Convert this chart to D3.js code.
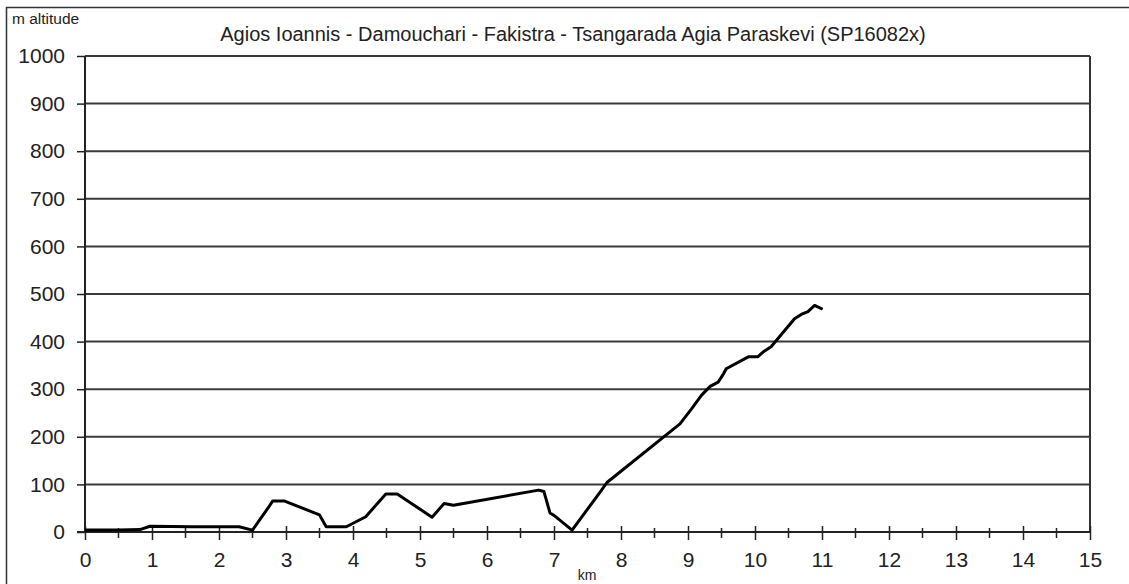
<!DOCTYPE html>
<html>
<head>
<meta charset="utf-8">
<script src="https://cdn.jsdelivr.net/npm/d3@7"></script>
<style>
 body { margin: 0; background: #fff; }
 svg { display: block; font-family: "Liberation Sans", Arial, sans-serif; }
</style>
</head>
<body>
<svg id="chart"></svg>
<script>
// distance along the route (km) and altitude (m)
var km = [0, 0.5, 0.82, 0.97, 1.6, 2.3, 2.5, 2.73, 2.8, 2.98, 3.5, 3.6, 3.9, 4.19, 4.49, 4.66,
  5.18, 5.36, 5.5, 6.77, 6.85, 6.94, 7.0, 7.27, 7.71, 7.79, 8.88, 9.05, 9.2, 9.33, 9.45,
  9.52, 9.57, 9.9, 10.04, 10.12, 10.24, 10.59, 10.69, 10.79, 10.89, 11.01];
var altitude = [4, 4, 5, 12, 11, 11, 4, 50, 65, 65, 36, 11, 11, 32, 80, 80,
  31, 60, 56, 88, 85, 40, 35, 4, 88, 104, 227, 258, 287, 306, 315,
  330, 343, 368, 368, 378, 389, 448, 457, 463, 476, 468];
var xTicks = d3.range(0, 16, 1);
var xMinorTicks = d3.range(0.5, 15, 1);
var yTicks = d3.range(0, 1001, 100);
var title = "Agios Ioannis - Damouchari - Fakistra - Tsangarada Agia Paraskevi (SP16082x)";

var width = 1129,
 height = 584;

var plotLeft = 85, plotRight = 1090, plotTop = 56, plotBottom = 532;

var svg = d3.select("#chart")
 .attr("width", width)
 .attr("height", height);

// outer frame (only top and left edges are visible)
svg.append("rect")
 .attr("x", 6.5).attr("y", 7.5)
 .attr("width", width + 20).attr("height", height + 20)
 .attr("fill", "#fff")
 .attr("stroke", "#333")
 .attr("stroke-width", 1.5);

var x = d3.scaleLinear().domain([0, 15]).range([plotLeft, plotRight]);
var y = d3.scaleLinear().domain([0, 1000]).range([plotBottom, plotTop]);

// horizontal gridlines
svg.append("g")
 .selectAll("line")
 .data(yTicks.filter(function(d) { return d > 0; }))
 .enter().append("line")
 .attr("x1", plotLeft).attr("x2", plotRight)
 .attr("y1", function(d) { return y(d); })
 .attr("y2", function(d) { return y(d); })
 .attr("stroke", "#3a3a3a")
 .attr("stroke-width", 2);

// right edge of plot
svg.append("line")
 .attr("x1", plotRight).attr("x2", plotRight)
 .attr("y1", plotTop).attr("y2", plotBottom)
 .attr("stroke", "#333").attr("stroke-width", 2);

// y axis
var yAxis = svg.append("g")
 .attr("transform", "translate(" + plotLeft + ",0)")
 .call(d3.axisLeft(y).tickValues(yTicks).tickFormat(d3.format("d")).tickSize(8).tickPadding(12));

// x axis
var xAxis = svg.append("g")
 .attr("transform", "translate(0," + plotBottom + ")")
 .call(d3.axisBottom(x).tickValues(xTicks).tickFormat(d3.format("d")).tickSize(8).tickPadding(12));

svg.append("g")
 .selectAll("line")
 .data(xMinorTicks)
 .enter().append("line")
 .attr("x1", function(d) { return x(d); })
 .attr("x2", function(d) { return x(d); })
 .attr("y1", plotBottom - 4).attr("y2", plotBottom + 6)
 .attr("stroke", "#222").attr("stroke-width", 1.5);

[yAxis, xAxis].forEach(function(a) {
 a.select(".domain").attr("stroke", "#222").attr("stroke-width", 2);
 a.selectAll(".tick line").attr("stroke", "#222").attr("stroke-width", 1.5);
 a.selectAll(".tick text")
  .attr("fill", "#222")
  .style("font-size", "21px")
  .style("font-family", "'Liberation Sans', Arial, sans-serif");
});
xAxis.selectAll(".tick line").attr("y1", -6);
yAxis.select(".domain").attr("d", "M0," + plotBottom + "V" + plotTop);
xAxis.select(".domain").attr("d", "M" + (plotLeft - 8) + ",0H" + plotRight);

// profile line
var line = d3.line()
 .x(function(d, i) { return x(km[i]); })
 .y(function(d) { return y(d); });

svg.append("path")
 .datum(altitude)
 .attr("d", line)
 .attr("fill", "none")
 .attr("stroke", "#000")
 .attr("stroke-width", 3)
 .attr("stroke-linejoin", "round");

// texts
svg.append("text")
 .attr("x", 573).attr("y", 41)
 .attr("text-anchor", "middle")
 .attr("fill", "#222")
 .style("font-size", "20px")
 .text(title);

svg.append("text")
 .attr("x", 12).attr("y", 24)
 .attr("fill", "#222")
 .style("font-size", "15.5px")
 .text("m altitude");

svg.append("text")
 .attr("x", 587).attr("y", 580)
 .attr("text-anchor", "middle")
 .attr("fill", "#222")
 .style("font-size", "14px")
 .text("km");
</script>
</body>
</html>
